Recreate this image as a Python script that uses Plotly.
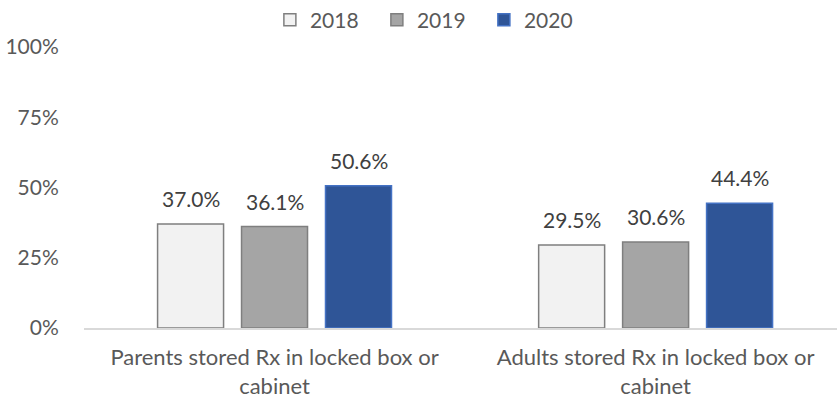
import plotly.graph_objects as go

categories = ["Parents stored Rx in locked box or<br>cabinet",
              "Adults stored Rx in locked box or<br>cabinet"]
years = ["2018", "2019", "2020"]
values_2018 = [0.370, 0.295]
values_2019 = [0.361, 0.306]
values_2020 = [0.506, 0.444]
series = [values_2018, values_2019, values_2020]

fills = ["#f2f2f2", "#a5a5a5", "#2f5597"]
edges = ["#7f7f7f", "#7f7f7f", "#4472c4"]
label_shift = [-84, 0, 84]  # px offset of each year's label within a group

FONT = "Lato"

fig = go.Figure()
for year, vals, fill, edge in zip(years, series, fills, edges):
    fig.add_trace(go.Bar(
        x=categories, y=vals, name=year,
        marker=dict(color=fill, line=dict(color=edge, width=1.5)),
    ))

# value labels above each bar
for vals, dx in zip(series, label_shift):
    for cat, v in zip(categories, vals):
        fig.add_annotation(
            x=cat, y=v, xref="x", yref="y", text=f"{v*100:.1f}%",
            showarrow=False, xanchor="center", yanchor="bottom",
            xshift=dx, yshift=11,
            font=dict(family=FONT, size=21, color="#404040"),
        )

fig.update_layout(
    width=837, height=401,
    margin=dict(l=84, r=0, t=47, b=73, autoexpand=False),
    paper_bgcolor="white", plot_bgcolor="white",
    barmode="group", bargap=0.339, bargroupgap=0.214,
    font=dict(family=FONT, color="#595959", size=21),
    legend=dict(orientation="h", x=0.46, xanchor="center",
                yref="container", y=0.95, yanchor="middle",
                font=dict(family=FONT, size=21, color="#595959"),
                entrywidth=62, entrywidthmode="pixels",
                traceorder="normal"),
    xaxis=dict(range=[-0.5, 1.476], showline=True, linecolor="#d9d9d9", linewidth=1.5,
               ticks="outside", ticklen=9, tickcolor="rgba(0,0,0,0)",
               tickfont=dict(family=FONT, size=22, color="#595959")),
    yaxis=dict(range=[0, 1], tickvals=[0, 0.25, 0.5, 0.75, 1.0],
               tickformat=".0%", showgrid=False, zeroline=False, showline=False,
               ticks="outside", ticklen=20, tickcolor="rgba(0,0,0,0)",
               tickfont=dict(family=FONT, size=21, color="#595959")),
)

fig.write_html("out.html")
